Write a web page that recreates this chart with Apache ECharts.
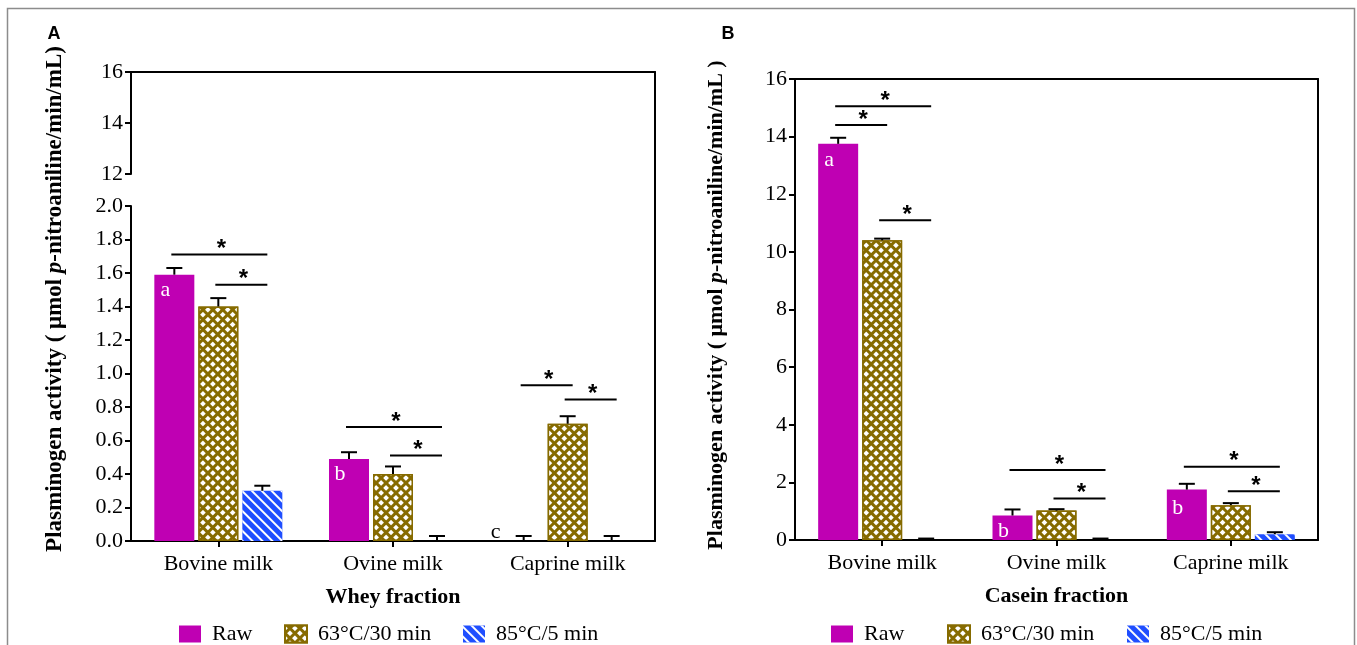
<!DOCTYPE html>
<html><head><meta charset="utf-8">
<script src="https://cdn.jsdelivr.net/npm/echarts@6/dist/echarts.min.js"></script>
<style>html,body{margin:0;padding:0;background:#fff}#c{width:1357px;height:645px}</style>
</head><body><div id="c"></div>
<script>
// ---------- data ----------
const categories = ['Bovine milk', 'Ovine milk', 'Caprine milk'];
const treatments = ['Raw', '63°C/30 min', '85°C/5 min'];

// Panel A – whey fraction
const wheyRaw     = [1.59, 0.49, 0];
const wheyPast    = [1.40, 0.40, 0.70];
const wheyHeat    = [0.30, 0, 0];
const wheyRawErr  = [0.04, 0.04, 0.03];
const wheyPastErr = [0.05, 0.045, 0.045];
const wheyHeatErr = [0.03, 0.03, 0.03];

// Panel B – casein fraction
const caseinRaw     = [13.75, 0.85, 1.75];
const caseinPast    = [10.40, 1.02, 1.21];
const caseinHeat    = [0, 0, 0.20];
const caseinRawErr  = [0.21, 0.21, 0.20];
const caseinPastErr = [0.06, 0.05, 0.07];
const caseinHeatErr = [0.05, 0.05, 0.07];

// significance brackets: [category, fromBar, toBar, level]
const wheyBrackets   = [[0,0,2,1.71],[0,1,2,1.53],[1,0,2,0.68],[1,1,2,0.51],[2,0,1,0.93],[2,1,2,0.845]];
const caseinBrackets = [[0,0,2,15.05],[0,0,1,14.4],[0,1,2,11.1],[1,0,2,2.43],[1,1,2,1.44],[2,0,2,2.54],[2,1,2,1.69]];

// letters: [category, bar, level, letter]
const wheyLetters   = [[0,0,1.50,'a'],[1,0,0.40,'b'],[2,0,0.055,'c']];
const caseinLetters = [[0,0,13.18,'a'],[1,0,0.31,'b'],[2,0,1.10,'b']];

// tick labels
const wheyTicksHigh = [12, 14, 16];
const wheyTicksLow  = ['0.0','0.2','0.4','0.6','0.8','1.0','1.2','1.4','1.6','1.8','2.0'];
const caseinTicks   = [0, 2, 4, 6, 8, 10, 12, 14, 16];

const yNameRich  = ['Plasminogen activity ( μmol ', 'p', '-nitroaniline/min/mL)'];
const yNameRichB = ['Plasminogen activity ( μmol ', 'p', '-nitroaniline/min/mL )'];

// ---------- style ----------
const SERIF = 'Liberation Serif';
const C_RAW = '#BF00B3', C_PAST = '#866B00', C_HEAT = '#1F4EFF';
const STEP = 44; // bar pitch in px

const decalPast = {symbol:'rect', symbolSize:1, color:'#ffffff', dashArrayX:[3.5,2.6], dashArrayY:[3.5,2.6], rotation:Math.PI/4};
const decalHeat = {symbol:'rect', symbolSize:1, color:'#ffffff', dashArrayX:[1,0], dashArrayY:[2,5], rotation:Math.PI/4};

const axLine = {show:true, onZero:false, lineStyle:{color:'#000', width:2}};
const axTick = {show:true, length:6, lineStyle:{color:'#000', width:2}};
const axLabel = {color:'#000', fontFamily:SERIF, fontSize:22, margin:8};

function barSeries(name, xi, yi, data, color, decal, border) {
  return {
    type:'bar', name, xAxisIndex:xi, yAxisIndex:yi, data,
    barWidth:40, barGap:'10%',
    itemStyle:{color, decal, borderColor:color, borderWidth:border},
    emphasis:{disabled:true}, z:2
  };
}
function errSeries(xi, yi, vals, errs, barIdx) {
  return {
    type:'custom', xAxisIndex:xi, yAxisIndex:yi, z:5, silent:true,
    data: vals.map((v,i)=>[i, v, v+errs[i]]),
    renderItem(params, api) {
      const b = api.coord([api.value(0), api.value(1)]);
      const t = api.coord([api.value(0), api.value(2)]);
      const x = b[0] + (barIdx-1)*STEP;
      return {type:'group', children:[
        {type:'line', shape:{x1:x, y1:b[1], x2:x, y2:t[1]}, style:{stroke:'#000', lineWidth:2}},
        {type:'line', shape:{x1:x-8, y1:t[1], x2:x+8, y2:t[1]}, style:{stroke:'#000', lineWidth:2}}
      ]};
    }
  };
}
function bracketSeries(xi, yi, data) {
  return {
    type:'custom', xAxisIndex:xi, yAxisIndex:yi, z:6, silent:true, data,
    renderItem(params, api) {
      const p = api.coord([api.value(0), api.value(3)]);
      const x1 = p[0] + (api.value(1)-1)*STEP - 3;
      const x2 = p[0] + (api.value(2)-1)*STEP + 5;
      return {type:'group', children:[
        {type:'line', shape:{x1, y1:p[1], x2, y2:p[1]}, style:{stroke:'#000', lineWidth:2}},
        {type:'text', x:(x1+x2)/2 + 2, y:p[1]-5,
         style:{text:'*', font:'bold 24px "Liberation Sans"', fill:'#000', textAlign:'center', textVerticalAlign:'middle'}}
      ]};
    }
  };
}
function letterSeries(xi, yi, data, barVals) {
  return {
    type:'custom', xAxisIndex:xi, yAxisIndex:yi, z:7, silent:true,
    data: data.map(d=>[d[0], d[1], d[2]]),
    renderItem(params, api) {
      const d = data[params.dataIndex];
      const p = api.coord([d[0], d[2]]);
      const inside = barVals[d[1]][d[0]] > d[2];
      return {type:'text', x:p[0] + (d[1]-1)*STEP + (inside ? -9 : -28), y:p[1],
        style:{text:d[3], font:'22px "' + SERIF + '"', fill: inside ? '#fff' : '#000', textAlign:'center', textVerticalAlign:'middle'}};
    }
  };
}
function legendItem(name, left) {
  return {data:[name], left, top:618, icon:'rect', itemWidth:22, itemHeight:17, selectedMode:false,
    textStyle:{fontFamily:SERIF, fontSize:22, color:'#000', padding:[0,0,0,6]}};
}
function yName(x, y, parts, size) {
  const st = {fontFamily:SERIF, fontSize:size, fontWeight:'bold', fill:'#000'};
  return {type:'text', x, y, rotation:Math.PI/2,
    style:{text:'{b|' + parts[0] + '}{i|' + parts[1] + '}{b|' + parts[2] + '}', textAlign:'center', textVerticalAlign:'middle',
      rich:{b:st, i:Object.assign({}, st, {fontStyle:'italic'})}}};
}

const chart = echarts.init(document.getElementById('c'), null, {renderer:'canvas'});
chart.setOption({
  animation:false,
  backgroundColor:'#fff',
  grid:[
    {left:131, top:72, width:524, height:102},   // A upper
    {left:131, top:206, width:524, height:335},  // A lower
    {left:131, top:72, width:524, height:469},   // A frame
    {left:795, top:79, width:523, height:461}    // B
  ],
  xAxis:[
    {type:'category', gridIndex:0, data:categories, position:'top', axisLine:axLine, axisTick:{show:false}, axisLabel:{show:false}},
    {type:'category', gridIndex:1, data:categories, axisLine:axLine, axisTick:Object.assign({alignWithLabel:true}, axTick),
     axisLabel:Object.assign({}, axLabel, {margin:12}),
     name:'Whey fraction', nameLocation:'middle', nameGap:45,
     nameTextStyle:{fontFamily:SERIF, fontSize:22, fontWeight:'bold', color:'#000'}},
    {type:'category', gridIndex:2, data:categories, show:false},
    {type:'category', gridIndex:3, data:categories, axisLine:axLine, axisTick:Object.assign({alignWithLabel:true}, axTick),
     axisLabel:Object.assign({}, axLabel, {margin:12}),
     name:'Casein fraction', nameLocation:'middle', nameGap:45,
     nameTextStyle:{fontFamily:SERIF, fontSize:22, fontWeight:'bold', color:'#000'}},
    {type:'category', gridIndex:3, data:categories, position:'top', axisLine:axLine, axisTick:{show:false}, axisLabel:{show:false}}
  ],
  yAxis:[
    {type:'value', gridIndex:0, min:wheyTicksHigh[0], max:wheyTicksHigh[wheyTicksHigh.length-1], interval:wheyTicksHigh[1]-wheyTicksHigh[0],
     axisLine:axLine, axisTick:axTick, axisLabel:axLabel, splitLine:{show:false}},
    {type:'value', gridIndex:1, min:0, max:2, interval:0.2,
     axisLine:axLine, axisTick:axTick, splitLine:{show:false},
     axisLabel:Object.assign({}, axLabel, {formatter:v=>wheyTicksLow[Math.round(v/0.2)]})},
    {type:'value', gridIndex:2, position:'right', min:0, max:1, axisLine:axLine, axisTick:{show:false}, axisLabel:{show:false}, splitLine:{show:false}},
    {type:'value', gridIndex:3, min:caseinTicks[0], max:caseinTicks[caseinTicks.length-1], interval:caseinTicks[1]-caseinTicks[0],
     axisLine:axLine, axisTick:axTick, axisLabel:axLabel, splitLine:{show:false}},
    {type:'value', gridIndex:3, position:'right', min:0, max:16, axisLine:axLine, axisTick:{show:false}, axisLabel:{show:false}, splitLine:{show:false}}
  ],
  legend:[
    legendItem(treatments[0], 174), legendItem(treatments[1], 279), legendItem(treatments[2], 458),
    legendItem(treatments[0], 826), legendItem(treatments[1], 942), legendItem(treatments[2], 1122)
  ],
  series:[
    barSeries(treatments[0], 1, 1, wheyRaw,  C_RAW, null, 0),
    barSeries(treatments[1], 1, 1, wheyPast, C_PAST, decalPast, 1.5),
    barSeries(treatments[2], 1, 1, wheyHeat, C_HEAT, decalHeat, 0),
    errSeries(1, 1, wheyRaw,  wheyRawErr, 0),
    errSeries(1, 1, wheyPast, wheyPastErr, 1),
    errSeries(1, 1, wheyHeat, wheyHeatErr, 2),
    bracketSeries(1, 1, wheyBrackets),
    letterSeries(1, 1, wheyLetters, [wheyRaw, wheyPast, wheyHeat]),

    barSeries(treatments[0], 3, 3, caseinRaw,  C_RAW, null, 0),
    barSeries(treatments[1], 3, 3, caseinPast, C_PAST, decalPast, 1.5),
    barSeries(treatments[2], 3, 3, caseinHeat, C_HEAT, decalHeat, 0),
    errSeries(3, 3, caseinRaw,  caseinRawErr, 0),
    errSeries(3, 3, caseinPast, caseinPastErr, 1),
    errSeries(3, 3, caseinHeat, caseinHeatErr, 2),
    bracketSeries(3, 3, caseinBrackets),
    letterSeries(3, 3, caseinLetters, [caseinRaw, caseinPast, caseinHeat])
  ],
  graphic:[
    {type:'rect', shape:{x:7.5, y:8.5, width:1347, height:700}, style:{fill:'none', stroke:'#8c8c8c', lineWidth:1.5}, z:-1, silent:true},
    {type:'text', x:54, y:34, style:{text:'A', font:'bold 18px "Liberation Sans"', fill:'#000', textAlign:'center', textVerticalAlign:'middle'}},
    {type:'text', x:728, y:34, style:{text:'B', font:'bold 18px "Liberation Sans"', fill:'#000', textAlign:'center', textVerticalAlign:'middle'}},
    yName(55, 299, yNameRich, 23),
    yName(716, 305, yNameRichB, 22)
  ]
});
</script></body></html>
